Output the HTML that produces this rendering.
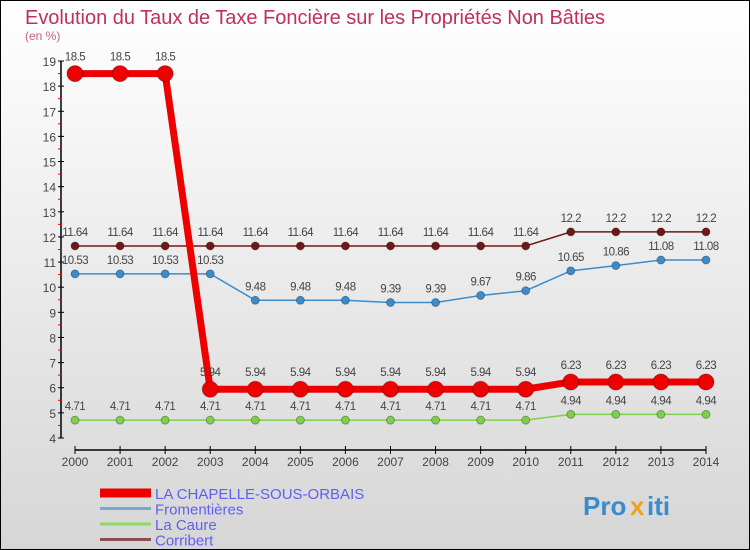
<!DOCTYPE html>
<html><head><meta charset="utf-8"><style>
body{margin:0;width:750px;height:550px;overflow:hidden;font-family:"Liberation Sans",sans-serif}
svg{display:block}
</style></head><body>
<svg id="c" width="750" height="550" xmlns="http://www.w3.org/2000/svg">
<defs><linearGradient id="bg" x1="0" y1="0" x2="0" y2="1"><stop offset="0" stop-color="#ffffff"/><stop offset="1" stop-color="#d6d6d6"/></linearGradient></defs>
<rect x="0.5" y="0.5" width="749" height="549" fill="url(#bg)" stroke="#000"/>
<text x="25" y="24" font-size="20" fill="#c0305a" textLength="580" lengthAdjust="spacingAndGlyphs">Evolution du Taux de Taxe Foncière sur les Propriétés Non Bâties</text>
<text x="25" y="40" font-size="12" fill="#c0608a">(en %)</text>
<g id="axes"></g>
<g id="series"></g>
<g id="legend"></g>
<g font-size="26" font-weight="bold">
<text x="583" y="515" fill="#3a8ad0">Pro</text><text x="630" y="515" fill="#f0a020">x</text><text x="647" y="515" fill="#3a8ad0">iti</text>
</g>
</svg>
<script>
const years=[2000,2001,2002,2003,2004,2005,2006,2007,2008,2009,2010,2011,2012,2013,2014];
const yTicks=[4,5,6,7,8,9,10,11,12,13,14,15,16,17,18,19];
const chapelle=[18.5,18.5,18.5,5.94,5.94,5.94,5.94,5.94,5.94,5.94,5.94,6.23,6.23,6.23,6.23];
const fromentieres=[10.53,10.53,10.53,10.53,9.48,9.48,9.48,9.39,9.39,9.67,9.86,10.65,10.86,11.08,11.08];
const lacaure=[4.71,4.71,4.71,4.71,4.71,4.71,4.71,4.71,4.71,4.71,4.71,4.94,4.94,4.94,4.94];
const corribert=[11.64,11.64,11.64,11.64,11.64,11.64,11.64,11.64,11.64,11.64,11.64,12.2,12.2,12.2,12.2];
const NS="http://www.w3.org/2000/svg";
const X=i=>75+i*(706-75)/(years.length-1);
const Y=v=>438-(v-4)*(438-61)/15;
function mk(t,a,p){const e=document.createElementNS(NS,t);for(const k in a)e.setAttribute(k,a[k]);p.appendChild(e);return e;}
const ax=document.getElementById('axes');
let e=mk('line',{x1:61,y1:61,x2:61,y2:438,stroke:'#000','stroke-width':1.5},ax);


yTicks.forEach(v=>{
 mk('line',{x1:58,x2:64,y1:Y(v),y2:Y(v),stroke:'#000'},ax);
 if(v<19)mk('line',{x1:58,x2:62,y1:Y(v+0.5),y2:Y(v+0.5),stroke:'#e00'},ax);
 const t=mk('text',{x:56,y:Y(v)+5,'text-anchor':'end','font-size':12,fill:'#444'},ax);t.textContent=v;
 
 
});
e=mk('line',{x1:75,y1:450,x2:706,y2:450,stroke:'#000','stroke-width':1.5},ax);


years.forEach((y,i)=>{
 mk('line',{x1:X(i),x2:X(i),y1:446,y2:454,stroke:'#000'},ax);
 const t=mk('text',{x:X(i),y:466,'text-anchor':'middle','font-size':12,fill:'#444'},ax);t.textContent=y;
 
 
});
const ser=document.getElementById('series');
function draw(vals,col,w,r,name,fmt){
 const g=mk('g',{},ser);
 
 
 mk('polyline',{points:vals.map((v,i)=>X(i)+','+Y(v)).join(' '),fill:'none',stroke:col,'stroke-width':w},g);
 vals.forEach((v,i)=>{
  const c=mk('circle',{cx:X(i),cy:Y(v),r:r,fill:col,stroke:'rgba(0,0,0,0.3)'},g);
  
  
  const t=mk('text',{x:X(i),y:Y(v)-10-(r>5?3:0),'text-anchor':'middle','font-size':11.5,fill:'#444','letter-spacing':'-0.5'},g);
  t.textContent=fmt?fmt(v):v;
  
  
 });
}
draw(lacaure,'#7ed04a',1.5,4,'series-la-caure');
draw(fromentieres,'#3c8ccc',1.5,4,'series-fromentieres');
draw(corribert,'#701818',1.5,4,'series-corribert');
draw(chapelle,'#ee0000',7,8,'series-la-chapelle');
const lg=document.getElementById('legend');
const L=[['LA CHAPELLE-SOUS-ORBAIS','#ee0000',9],['Fromentières','#7aa8cc',3],['La Caure','#8cd860',3],['Corribert','#8a5050',3]];
L.forEach((l,i)=>{
 const y=493+i*15.5;
 const g=mk('g',{},lg);
 
 
 mk('line',{x1:100,x2:151,y1:y,y2:y,stroke:l[1],'stroke-width':l[2]},g);
 const t=mk('text',{x:155,y:y+6,'font-size':15,fill:'#6060f0'},g);t.textContent=l[0];
});
</script>
</body></html>
